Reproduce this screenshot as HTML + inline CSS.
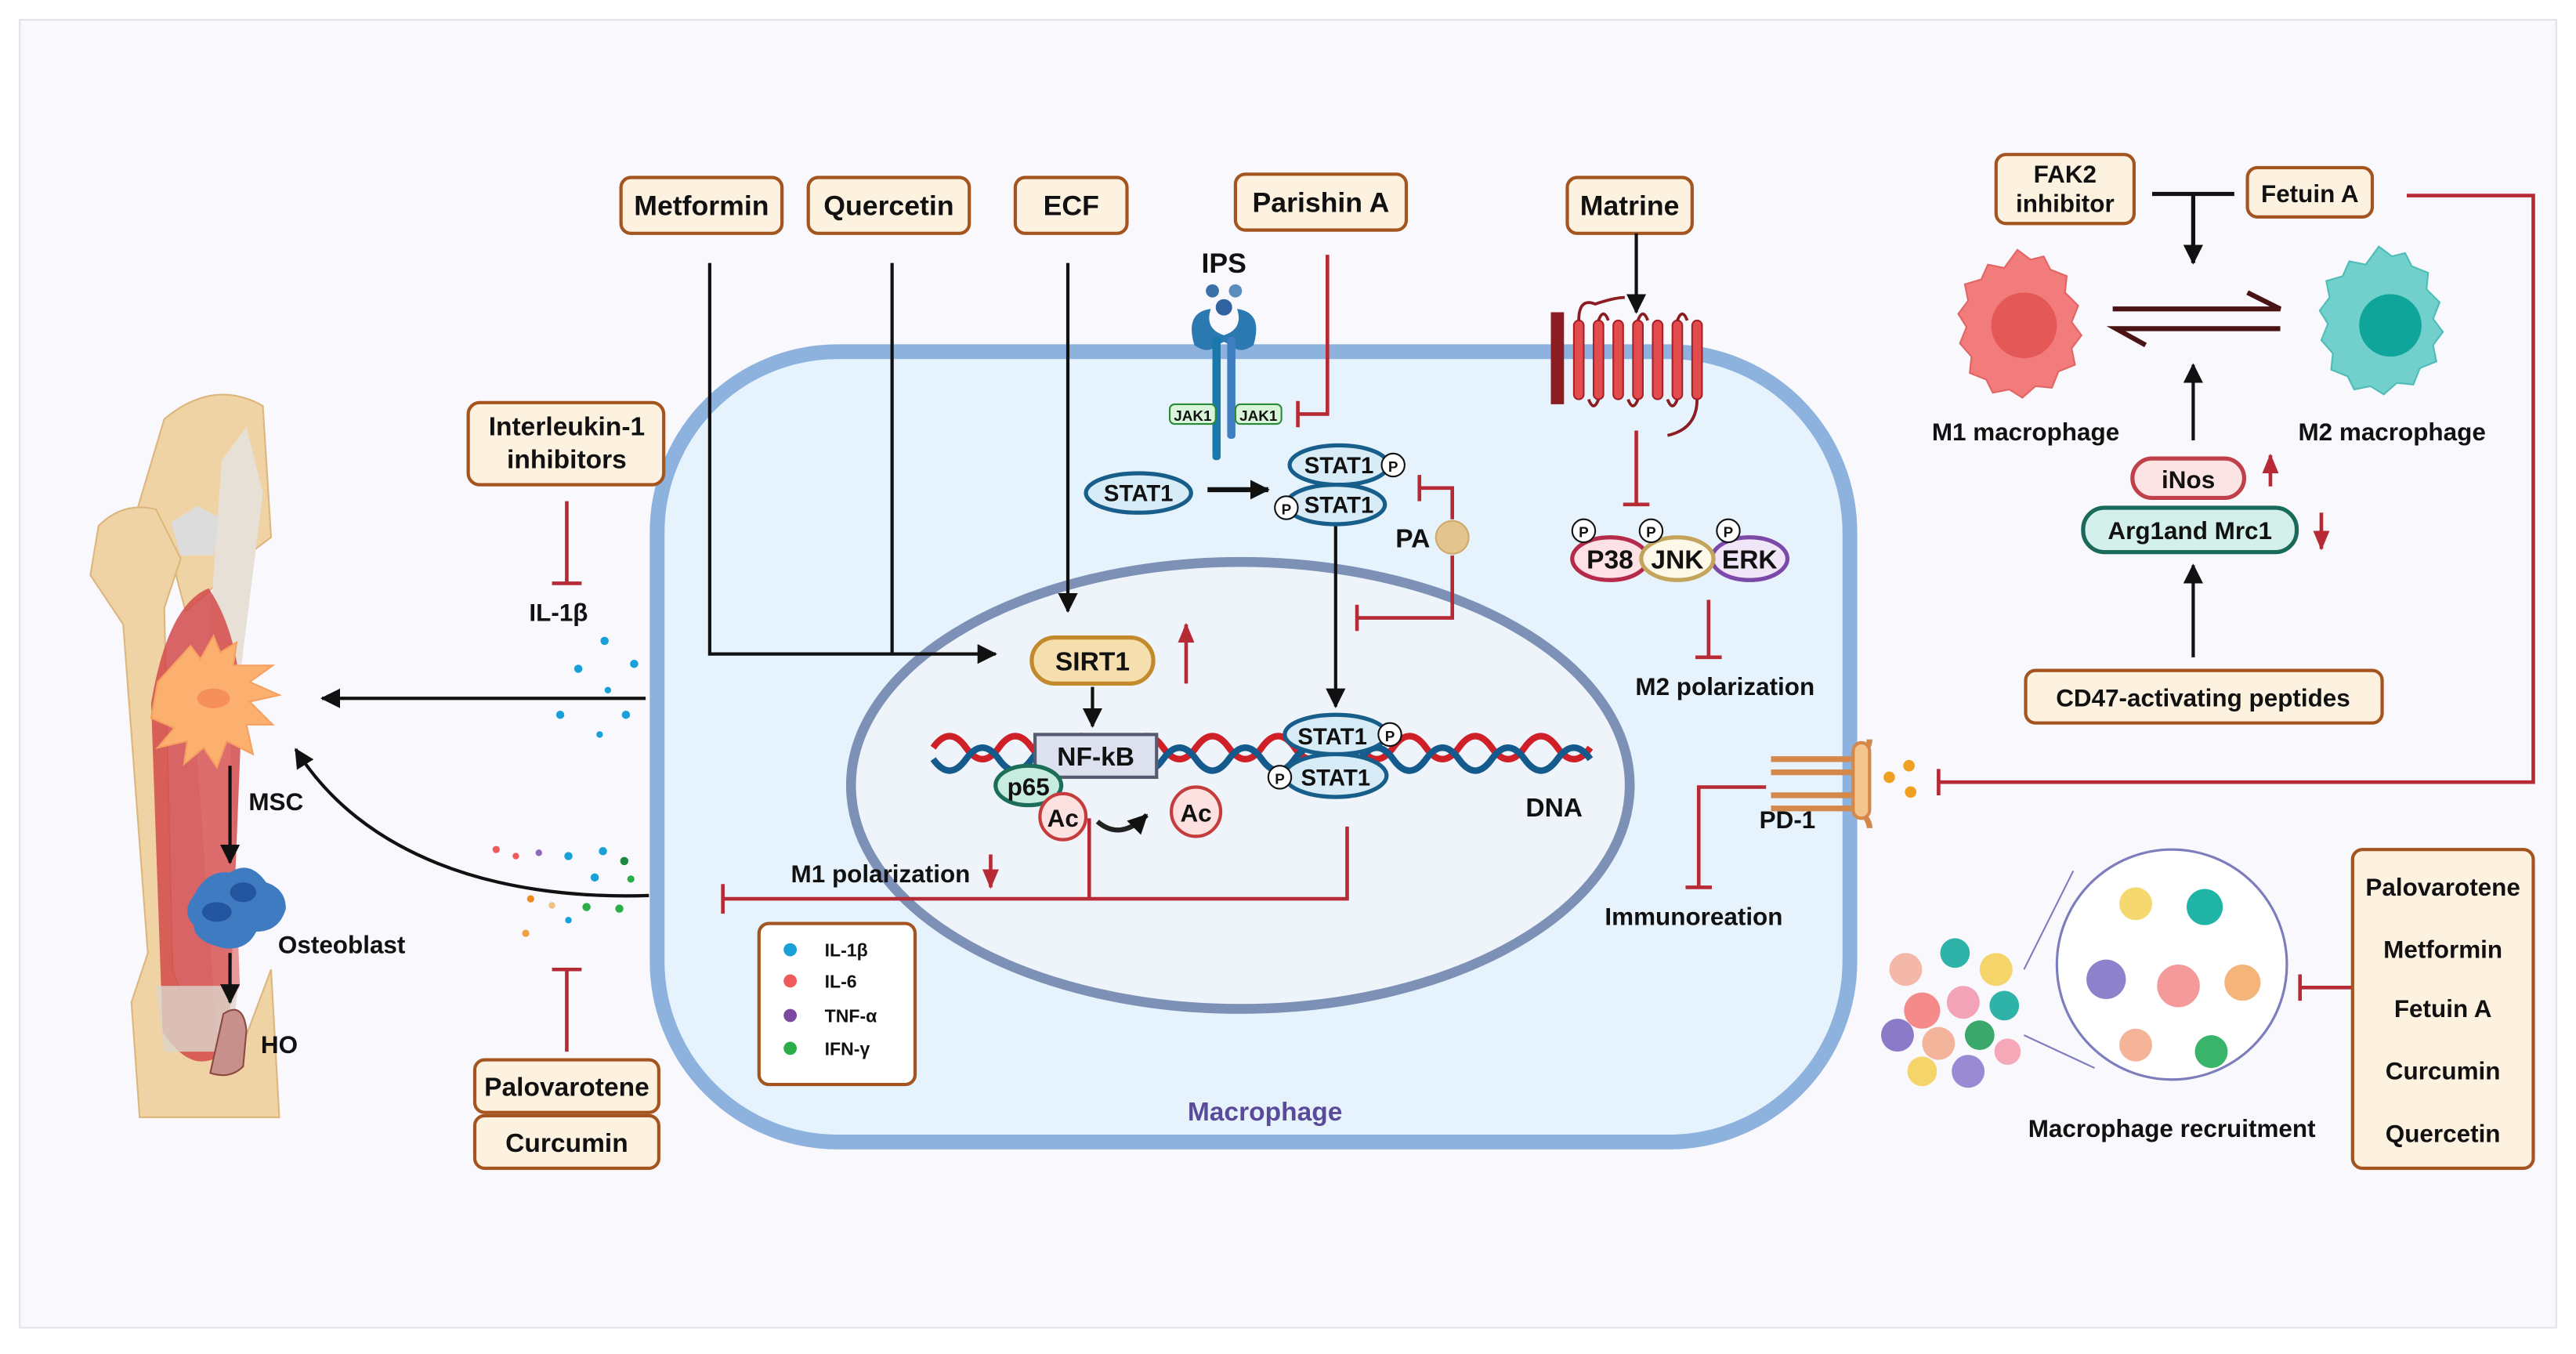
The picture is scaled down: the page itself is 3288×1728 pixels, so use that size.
<!DOCTYPE html>
<html><head><meta charset="utf-8"><style>
html,body{margin:0;padding:0;background:#fff}
svg{display:block}
text{font-family:"Liberation Sans",sans-serif;font-weight:bold;fill:#111}
.b{fill:#fdf1e0;stroke:#a3541f;stroke-width:2}
.r{stroke:#b52a35;stroke-width:2.2;fill:none}
.k{stroke:#111;stroke-width:2;fill:none}
</style></head><body>
<svg width="3288" height="1728" viewBox="0 0 1568 824" xmlns="http://www.w3.org/2000/svg">
<defs>
<marker id="akb" markerWidth="12" markerHeight="12" refX="11" refY="6" orient="auto" markerUnits="userSpaceOnUse" viewBox="0 0 12 12"><path d="M0,0 L12,6 L0,12z" fill="#111"/></marker>
<marker id="ar" markerWidth="12" markerHeight="12" refX="11" refY="6" orient="auto" markerUnits="userSpaceOnUse" viewBox="0 0 12 12"><path d="M0,1 L12,6 L0,11z" fill="#b52a35"/></marker>
</defs>
<rect x="0" y="0" width="1568" height="824" fill="#fff"/>
<rect x="12" y="12" width="1544" height="796" fill="#f8f8fd" stroke="#e2e2e8" stroke-width="1"/>

<rect x="400" y="214" width="726" height="481" rx="110" fill="#e7f3fc" stroke="#8db2de" stroke-width="9"/>
<ellipse cx="755" cy="478" rx="237" ry="136" fill="#eff4fa" stroke="#7d90b6" stroke-width="6"/>
<text x="770" y="682" font-size="16" text-anchor="middle" style="fill:#5a4a9a">Macrophage</text>

<rect class="b" x="378" y="108" width="98" height="34" rx="6"/><text x="427" y="131" font-size="17" text-anchor="middle">Metformin</text>
<rect class="b" x="492" y="108" width="98" height="34" rx="6"/><text x="541" y="131" font-size="17" text-anchor="middle">Quercetin</text>
<rect class="b" x="618" y="108" width="68" height="34" rx="6"/><text x="652" y="131" font-size="17" text-anchor="middle">ECF</text>
<rect class="b" x="752" y="106" width="104" height="34" rx="6"/><text x="804" y="129" font-size="17" text-anchor="middle">Parishin A</text>
<rect class="b" x="954" y="108" width="76" height="34" rx="6"/><text x="992" y="131" font-size="17" text-anchor="middle">Matrine</text>

<path class="k" d="M432,160 V398 H606" marker-end="url(#akb)"/>
<path class="k" d="M543,160 V398"/>
<path class="k" d="M650,160 V372" marker-end="url(#akb)"/>

<rect x="628" y="388" width="74" height="28" rx="14" fill="#f6dfae" stroke="#c38a2b" stroke-width="2.5"/>
<text x="665" y="408" font-size="16" text-anchor="middle">SIRT1</text>
<path class="r" d="M722,416 V380" marker-end="url(#ar)"/>
<path class="k" d="M665,418 V442" marker-end="url(#akb)"/>

<path d="M568,455 q10,-14 20,0 t20,0 t20,0 t20,0 t20,0 t20,0 t20,0 t20,0 t20,0 t20,0 t20,0 t20,0 t20,0 t20,0 t20,0 t20,0 t20,0 t20,0 t20,0 t20,0" stroke="#cf1f27" stroke-width="4" fill="none"/>
<path d="M568,462 q10,14 20,0 t20,0 t20,0 t20,0 t20,0 t20,0 t20,0 t20,0 t20,0 t20,0 t20,0 t20,0 t20,0 t20,0 t20,0 t20,0 t20,0 t20,0 t20,0 t20,0" stroke="#145a8c" stroke-width="4" fill="none"/>
<rect x="630" y="447" width="74" height="26" fill="#dde0ef" stroke="#565b70" stroke-width="2"/>
<text x="667" y="466" font-size="16" text-anchor="middle">NF-kB</text>
<ellipse cx="626" cy="478" rx="20" ry="12" fill="#c8ece0" stroke="#1c6e5a" stroke-width="2.5"/>
<text x="626" y="484" font-size="15" text-anchor="middle">p65</text>
<circle cx="647" cy="497" r="14" fill="#fde1e1" stroke="#c43c3c" stroke-width="2"/><text x="647" y="503" font-size="15" text-anchor="middle">Ac</text>
<path d="M668,500 q14,12 30,-4" stroke="#222" stroke-width="3" fill="none" marker-end="url(#akb)"/>
<circle cx="728" cy="494" r="15" fill="#fde1e1" stroke="#c43c3c" stroke-width="2"/><text x="728" y="500" font-size="15" text-anchor="middle">Ac</text>
<ellipse cx="813" cy="447" rx="31" ry="12" fill="#d8ecf8" stroke="#175e8a" stroke-width="2.5"/>
<ellipse cx="813" cy="472" rx="31" ry="13" fill="#d8ecf8" stroke="#175e8a" stroke-width="2.5"/>
<text x="811" y="453" font-size="14" text-anchor="middle">STAT1</text><text x="813" y="478" font-size="14" text-anchor="middle">STAT1</text>
<circle cx="846" cy="447" r="7" fill="#fff" stroke="#111"/><text x="846" y="451" font-size="9" text-anchor="middle">P</text>
<circle cx="779" cy="473" r="7" fill="#fff" stroke="#111"/><text x="779" y="477" font-size="9" text-anchor="middle">P</text>
<text x="946" y="497" font-size="16" text-anchor="middle">DNA</text>
<path class="k" d="M813,320 V430" marker-end="url(#akb)"/>

<text x="536" y="537" font-size="15" text-anchor="middle">M1 polarization</text>
<path class="r" d="M603,520 V540" marker-end="url(#ar)"/>
<path class="r" d="M820,503 V547 H440 M440,538 V556 M663,498 V547"/>

<rect x="462" y="562" width="95" height="98" rx="6" fill="#fff" stroke="#a3541f" stroke-width="2"/>
<circle cx="481" cy="578" r="4" fill="#1aa0d8"/><text x="502" y="582" font-size="11">IL-1β</text>
<circle cx="481" cy="597" r="4" fill="#ef5b5b"/><text x="502" y="601" font-size="11">IL-6</text>
<circle cx="481" cy="618" r="4" fill="#7b4aa0"/><text x="502" y="622" font-size="11">TNF-α</text>
<circle cx="481" cy="638" r="4" fill="#2bae4a"/><text x="502" y="642" font-size="11">IFN-γ</text>

<text x="745" y="166" font-size="17" text-anchor="middle">IPS</text>
<circle cx="738" cy="177" r="4" fill="#3a6fa8"/><circle cx="752" cy="177" r="4" fill="#5a8cc0"/>
<path d="M727,210 q-6,-20 10,-22 q-4,12 8,16 q12,-4 8,-16 q16,2 10,22 q-8,6 -14,0 l-4,-2 l-4,2 q-6,6 -14,0z" fill="#2a79b0"/>
<circle cx="745" cy="187" r="5" fill="#2f64a0"/>
<rect x="738" y="205" width="5" height="75" rx="2" fill="#1a78aa"/>
<rect x="747" y="205" width="5" height="62" rx="2" fill="#3f7ec0"/>
<rect x="712" y="246" width="28" height="12" rx="3" fill="#d9f5d9" stroke="#2a8a3a"/><text x="726" y="256" font-size="9" text-anchor="middle">JAK1</text>
<rect x="752" y="246" width="28" height="12" rx="3" fill="#d9f5d9" stroke="#2a8a3a"/><text x="766" y="256" font-size="9" text-anchor="middle">JAK1</text>
<path class="r" d="M808,155 V252 H790 M790,244 V260"/>

<ellipse cx="693" cy="300" rx="32" ry="12" fill="#d8ecf8" stroke="#175e8a" stroke-width="2.5"/><text x="693" y="305" font-size="14" text-anchor="middle">STAT1</text>
<path d="M735,298 H772" stroke="#111" stroke-width="3" marker-end="url(#akb)"/>
<ellipse cx="815" cy="283" rx="30" ry="12" fill="#d8ecf8" stroke="#175e8a" stroke-width="2.5"/>
<ellipse cx="813" cy="307" rx="30" ry="12" fill="#d8ecf8" stroke="#175e8a" stroke-width="2.5"/>
<text x="815" y="288" font-size="14" text-anchor="middle">STAT1</text><text x="815" y="312" font-size="14" text-anchor="middle">STAT1</text>
<circle cx="848" cy="283" r="7" fill="#fff" stroke="#111"/><text x="848" y="287" font-size="9" text-anchor="middle">P</text>
<circle cx="783" cy="309" r="7" fill="#fff" stroke="#111"/><text x="783" y="313" font-size="9" text-anchor="middle">P</text>
<text x="860" y="333" font-size="16" text-anchor="middle">PA</text>
<circle cx="884" cy="327" r="10" fill="#e2c48f" stroke="#cfa96a"/>
<path class="r" d="M884,316 V297 H864 M864,289 V305 M884,338 V376 H826 M826,368 V384"/>

<path class="k" d="M996,142 V190" marker-end="url(#akb)"/>
<rect x="944" y="190" width="8" height="56" fill="#8b1d22"/>
<g fill="#e24c4c" stroke="#a8202a" stroke-width="1">
<rect x="958" y="195" width="6" height="48" rx="3"/><rect x="970" y="195" width="6" height="48" rx="3"/><rect x="982" y="195" width="6" height="48" rx="3"/><rect x="994" y="195" width="6" height="48" rx="3"/><rect x="1006" y="195" width="6" height="48" rx="3"/><rect x="1018" y="195" width="6" height="48" rx="3"/><rect x="1030" y="195" width="6" height="48" rx="3"/></g>
<path d="M961,195 q0,-14 10,-10 q12,-4 18,-4 M973,195 q3,-8 6,0 M997,195 q3,-8 6,0 M1021,195 q3,-8 6,0 M967,243 q3,8 6,0 M991,243 q3,8 6,0 M1015,243 q3,8 6,0 M1033,243 q0,18 -18,22" stroke="#8b1d22" stroke-width="1.8" fill="none"/>
<path class="r" d="M996,262 V307 M988,307 H1004"/>
<ellipse cx="980" cy="340" rx="23" ry="13" fill="#fde1e6" stroke="#b42a48" stroke-width="2.5"/>
<ellipse cx="1065" cy="340" rx="23" ry="13" fill="#f1e6f8" stroke="#7b4aa8" stroke-width="2.5"/>
<ellipse cx="1021" cy="340" rx="22" ry="13" fill="#fdf8e8" stroke="#c2a45c" stroke-width="2.5"/>
<text x="980" y="346" font-size="16" text-anchor="middle">P38</text><text x="1021" y="346" font-size="16" text-anchor="middle">JNK</text><text x="1065" y="346" font-size="16" text-anchor="middle">ERK</text>
<g font-size="9"><circle cx="964" cy="323" r="7" fill="#fff" stroke="#111"/><text x="964" y="327" text-anchor="middle">P</text>
<circle cx="1005" cy="323" r="7" fill="#fff" stroke="#111"/><text x="1005" y="327" text-anchor="middle">P</text>
<circle cx="1052" cy="323" r="7" fill="#fff" stroke="#111"/><text x="1052" y="327" text-anchor="middle">P</text></g>
<path class="r" d="M1040,365 V400 M1032,400 H1048"/>
<text x="1050" y="423" font-size="15" text-anchor="middle">M2 polarization</text>

<path d="M1078,462 H1130 q8,-6 8,-12 M1078,470 H1130 M1078,484 H1130 M1078,492 H1130 q8,6 8,12" stroke="#d4884a" stroke-width="3.5" fill="none"/>
<rect x="1128" y="452" width="10" height="46" rx="5" fill="#f2c48e" stroke="#d4884a" stroke-width="2"/>
<circle cx="1150" cy="473" r="3.5" fill="#f0a020"/><circle cx="1162" cy="466" r="3.5" fill="#f0a020"/><circle cx="1163" cy="482" r="3.5" fill="#f0a020"/>
<text x="1088" y="504" font-size="15" text-anchor="middle">PD-1</text>
<path class="r" d="M1075,479 H1034 V540 M1026,540 H1042"/>
<text x="1031" y="563" font-size="15" text-anchor="middle">Immunoreation</text>
<path class="r" d="M1465,119 H1542 V476 H1180 M1180,468 V484"/>

<path d="M1228,152 l8,6 l8,-2 l4,8 l10,4 l-1,10 l8,8 l-4,10 l6,8 l-6,8 l2,10 l-10,4 l-4,10 l-10,-1 l-8,7 l-8,-5 l-10,2 l-4,-8 l-10,-4 l1,-10 l-7,-8 l4,-10 l-5,-8 l6,-8 l-2,-10 l10,-3 l4,-9 l10,2z" fill="#f27b7b" stroke="#e26464"/>
<circle cx="1232" cy="198" r="20" fill="#e55858"/>
<path d="M1448,150 l8,6 l8,-2 l4,8 l10,4 l-1,10 l8,8 l-4,10 l6,8 l-6,8 l2,10 l-10,4 l-4,10 l-10,-1 l-8,7 l-8,-5 l-10,2 l-4,-8 l-10,-4 l1,-10 l-7,-8 l4,-10 l-5,-8 l6,-8 l-2,-10 l10,-3 l4,-9 l10,2z" fill="#72d0cc" stroke="#4fbcb8"/>
<circle cx="1455" cy="198" r="19" fill="#0fa59b"/>
<text x="1233" y="268" font-size="15" text-anchor="middle">M1 macrophage</text>
<text x="1456" y="268" font-size="15" text-anchor="middle">M2 macrophage</text>
<path d="M1286,188 H1388 L1368,178 M1388,200 H1288 L1306,210" stroke="#4a1414" stroke-width="3" fill="none"/>
<rect class="b" x="1215" y="94" width="84" height="42" rx="6"/><text x="1257" y="111" font-size="15" text-anchor="middle">FAK2</text><text x="1257" y="129" font-size="15" text-anchor="middle">inhibitor</text>
<rect class="b" x="1368" y="102" width="76" height="30" rx="6"/><text x="1406" y="123" font-size="15" text-anchor="middle">Fetuin A</text>
<path d="M1310,118 H1360 M1335,118 V160" stroke="#111" stroke-width="2.5" fill="none" marker-end="url(#akb)"/>
<path class="k" d="M1335,268 V222" marker-end="url(#akb)"/>
<rect x="1298" y="279" width="68" height="24" rx="12" fill="#fde4e4" stroke="#c0404a" stroke-width="2.5"/><text x="1332" y="297" font-size="15" text-anchor="middle">iNos</text>
<path class="r" d="M1382,296 V277" marker-end="url(#ar)"/>
<rect x="1268" y="309" width="130" height="27" rx="13" fill="#d3f1ea" stroke="#1a6a5a" stroke-width="2.5"/><text x="1333" y="328" font-size="15" text-anchor="middle">Arg1and Mrc1</text>
<path class="r" d="M1413,312 V334" marker-end="url(#ar)"/>
<path class="k" d="M1335,400 V344" marker-end="url(#akb)"/>
<rect class="b" x="1233" y="408" width="217" height="32" rx="6"/><text x="1341" y="430" font-size="15" text-anchor="middle">CD47-activating peptides</text>

<circle cx="1322" cy="587" r="70" fill="#fff" stroke="#7d7dbd" stroke-width="1.5"/>
<path d="M1232,590 L1262,530 M1232,630 L1275,650" stroke="#7d7dbd" stroke-width="1"/>
<g>
<circle cx="1160" cy="590" r="10" fill="#f4b8a8"/><circle cx="1190" cy="580" r="9" fill="#2fb3a8"/><circle cx="1215" cy="590" r="10" fill="#f5d46a"/>
<circle cx="1170" cy="615" r="11" fill="#f48a8a"/><circle cx="1195" cy="610" r="10" fill="#f3a3b8"/><circle cx="1220" cy="612" r="9" fill="#2fb3a8"/>
<circle cx="1155" cy="630" r="10" fill="#8b7ac8"/><circle cx="1180" cy="635" r="10" fill="#f2b49a"/><circle cx="1205" cy="630" r="9" fill="#3aa86a"/>
<circle cx="1170" cy="652" r="9" fill="#f5d46a"/><circle cx="1198" cy="652" r="10" fill="#9a8ad4"/><circle cx="1222" cy="640" r="8" fill="#f4a8b8"/>
</g>
<circle cx="1300" cy="550" r="10" fill="#f5d870"/><circle cx="1342" cy="552" r="11" fill="#20b4a6"/>
<circle cx="1282" cy="596" r="12" fill="#8e82cc"/><circle cx="1326" cy="600" r="13" fill="#f49a9a"/><circle cx="1365" cy="598" r="11" fill="#f5b47a"/>
<circle cx="1300" cy="636" r="10" fill="#f5b49a"/><circle cx="1346" cy="640" r="10" fill="#3ab46a"/>
<text x="1322" y="692" font-size="15" text-anchor="middle">Macrophage recruitment</text>
<path class="r" d="M1432,601 H1400 M1400,593 V609"/>
<rect class="b" x="1432" y="517" width="110" height="194" rx="6"/>
<g font-size="15" text-anchor="middle"><text x="1487" y="545">Palovarotene</text><text x="1487" y="583">Metformin</text><text x="1487" y="619">Fetuin A</text><text x="1487" y="657">Curcumin</text><text x="1487" y="695">Quercetin</text></g>

<rect class="b" x="285" y="245" width="119" height="50" rx="7"/><text x="345" y="265" font-size="16" text-anchor="middle">Interleukin-1</text><text x="345" y="285" font-size="16" text-anchor="middle">inhibitors</text>
<path class="r" d="M345,305 V355 M336,355 H354"/>
<text x="340" y="378" font-size="15" text-anchor="middle">IL-1β</text>
<path d="M393,425 H196" stroke="#111" stroke-width="2" marker-end="url(#akb)"/>
<path d="M395,545 C300,548 220,520 180,456" stroke="#111" stroke-width="2" fill="none" marker-end="url(#akb)"/>
<g fill="#18a0d8"><circle cx="368" cy="390" r="2.5"/><circle cx="386" cy="404" r="2.5"/><circle cx="352" cy="407" r="2.5"/><circle cx="370" cy="420" r="2"/><circle cx="341" cy="435" r="2.5"/><circle cx="381" cy="435" r="2.5"/><circle cx="365" cy="447" r="2"/></g>
<g><circle cx="302" cy="517" r="2.2" fill="#ef5b5b"/><circle cx="314" cy="521" r="2" fill="#ef5b5b"/><circle cx="328" cy="519" r="2" fill="#8b6ab8"/><circle cx="346" cy="521" r="2.5" fill="#18a0d8"/><circle cx="367" cy="518" r="2.5" fill="#18a0d8"/><circle cx="380" cy="524" r="2.5" fill="#1a8a40"/><circle cx="362" cy="534" r="2.5" fill="#18a0d8"/><circle cx="384" cy="535" r="2.2" fill="#2bae4a"/><circle cx="323" cy="547" r="2.2" fill="#f08a20"/><circle cx="336" cy="551" r="2" fill="#f0c080"/><circle cx="357" cy="552" r="2.5" fill="#2bae4a"/><circle cx="377" cy="553" r="2.5" fill="#2bae4a"/><circle cx="346" cy="560" r="2" fill="#18a0d8"/><circle cx="320" cy="568" r="2.2" fill="#f0a040"/></g>
<path class="r" d="M345,640 V590 M336,590 H354"/>
<rect class="b" x="289" y="645" width="112" height="32" rx="6"/><text x="345" y="667" font-size="16" text-anchor="middle">Palovarotene</text>
<rect class="b" x="289" y="679" width="112" height="32" rx="6"/><text x="345" y="701" font-size="16" text-anchor="middle">Curcumin</text>

<!-- leg -->
<path d="M100,255 q30,-25 60,-8 l5,80 l-20,15 l-20,20 l-12,10 l-8,-30 l-25,-20 z" fill="#f0d3a4" stroke="#dcb67c"/>
<path d="M60,320 q15,-15 35,-10 l15,30 l-10,30 l5,220 l15,40 l30,0 l15,-40 l5,90 l-85,0 l-5,-70 l10,-30 l-15,-200 l-20,-30 z" fill="#f0d3a4" stroke="#dcb67c"/>
<path d="M104,318 l16,-10 l16,8 l-6,22 l-20,0z" fill="#dcdcdc"/>
<path d="M135,280 l15,-20 l10,40 l-15,120 l-20,0z" fill="#e6e0d6"/>
<path d="M92,428 q10,-60 35,-70 q20,30 20,80 l-8,200 q-20,20 -40,-10 z" fill="#d24a4a" opacity="0.85"/>
<path d="M120,460 q8,-30 20,-20 l6,160 l-14,30z" fill="#e07070" opacity="0.7"/>
<path d="M95,600 l50,0 l-5,40 l-40,0z" fill="#dcd6cc" opacity="0.8"/>
<path d="M96,415 l20,-22 l6,8 l8,-14 l4,10 l10,-6 l-2,14 l24,0 l-14,10 l18,8 l-18,4 l14,14 l-16,0 l4,18 l-16,-8 l-6,16 l-8,-12 l-12,10 l2,-14 l-18,4 l10,-12 l-14,-6z" fill="#fbb070" stroke="#f5a060"/>
<ellipse cx="130" cy="425" rx="10" ry="6" fill="#f5905a"/>
<text x="168" y="493" font-size="15" text-anchor="middle">MSC</text>
<path class="k" d="M140,466 V525" marker-end="url(#akb)"/>
<path d="M118,545 q8,-16 22,-14 q12,-8 22,6 q12,4 12,16 q-4,14 -18,14 q-6,12 -20,10 q-18,-4 -18,-14 q-8,-8 0,-18z" fill="#3f7bc0"/>
<ellipse cx="132" cy="555" rx="9" ry="6" fill="#2456a0"/><ellipse cx="148" cy="543" rx="8" ry="6" fill="#2456a0"/>
<text x="208" y="580" font-size="15" text-anchor="middle">Osteoblast</text>
<path class="k" d="M140,580 V610" marker-end="url(#akb)"/>
<path d="M136,617 q12,-8 14,10 l-2,22 q-8,8 -20,4 z" fill="#c8908a" stroke="#8a4a42"/>
<text x="170" y="641" font-size="15" text-anchor="middle">HO</text>
</svg>
</body></html>
